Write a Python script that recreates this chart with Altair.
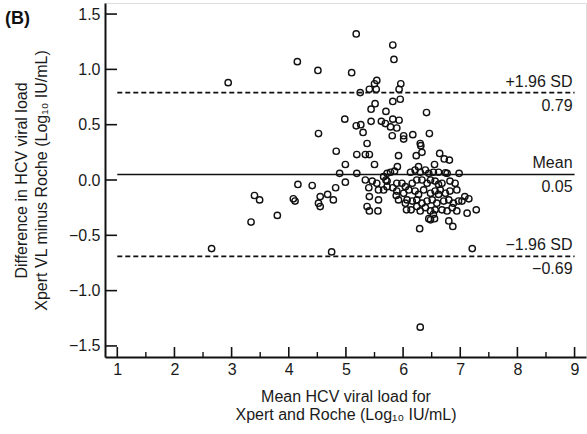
import altair as alt
import pandas as pd

# Bland-Altman data
means = [5.18,5.82,5.84,4.15,4.51,5.10,2.94,5.54,5.50,5.96,5.41,5.53,5.93,5.25,5.95,5.82,5.51,5.44,5.70,6.41,
         4.98,5.44,5.62,5.69,5.82,5.93,5.18,5.26,5.78,5.89,4.52,5.30,5.81,6.01,6.01,6.17,6.46,5.37,6.30,6.31,
         4.83,5.19,5.34,5.41,5.92,6.23,6.33,6.64,6.72,6.81,4.99,5.50,5.90,6.27,6.55,4.89,5.19,5.72,5.78,5.85,
         6.13,6.21,6.30,6.39,6.45,6.53,6.62,6.77,6.98,5.66,4.16,4.41,4.82,4.99,5.34,5.40,5.46,5.54,5.57,5.70,
         5.72,5.82,5.89,3.40,3.49,4.08,4.11,4.55,4.52,4.55,4.68,4.78,3.34,3.80,5.41,5.57,5.37,5.41,5.56,5.88,
         5.92,6.04,6.06,6.14,6.29,6.45,6.55,6.80,6.87,7.12,7.28,7.08,7.15,7.03,2.65,4.75,7.21,6.30,5.72,5.98,
         6.04,6.16,6.24,6.33,6.42,6.48,6.56,6.62,5.66,5.89,6.01,6.10,6.21,6.27,6.36,6.48,6.56,6.62,6.07,6.16,
         6.24,6.33,6.42,6.51,6.59,6.24,6.30,6.39,6.48,6.56,6.48,6.53,6.74,6.68,6.82,6.91,6.65,6.74,6.82,6.94,
         6.71,6.80,6.88,6.97,6.68,6.77,6.86,6.94]
diffs = [1.32,1.22,1.09,1.07,0.99,0.97,0.88,0.90,0.87,0.87,0.82,0.82,0.82,0.79,0.73,0.71,0.69,0.64,0.62,0.61,
         0.55,0.53,0.53,0.51,0.55,0.54,0.49,0.50,0.48,0.47,0.42,0.43,0.40,0.40,0.37,0.41,0.42,0.33,0.33,0.31,
         0.26,0.23,0.23,0.23,0.22,0.22,0.25,0.24,0.19,0.18,0.14,0.14,0.12,0.12,0.14,0.06,0.06,0.06,0.07,0.08,
         0.07,0.09,0.07,0.09,0.06,0.07,0.07,0.06,0.06,0.03,-0.04,-0.05,-0.07,-0.02,0.00,-0.07,-0.01,-0.03,-0.09,0.00,
         -0.06,-0.07,-0.03,-0.14,-0.18,-0.17,-0.19,-0.15,-0.21,-0.24,-0.13,-0.18,-0.38,-0.32,-0.15,-0.18,-0.24,-0.28,-0.28,-0.14,
         -0.18,-0.21,-0.27,-0.27,-0.44,-0.35,-0.35,-0.37,-0.42,-0.30,-0.27,-0.15,-0.17,-0.19,-0.62,-0.65,-0.62,-1.33,-0.01,-0.03,
         -0.06,-0.03,0.00,0.00,-0.03,0.00,-0.01,-0.04,-0.09,-0.10,-0.12,-0.09,-0.10,-0.13,-0.09,-0.12,-0.10,-0.13,-0.18,-0.19,
         -0.18,-0.21,-0.19,-0.18,-0.21,-0.24,-0.28,-0.25,-0.28,-0.27,-0.36,-0.31,0.065,-0.03,-0.01,-0.03,-0.09,-0.12,-0.10,-0.09,
         -0.19,-0.18,-0.21,-0.19,-0.27,-0.28,-0.25,-0.28]

ref_values = [0.79, 0.05, -0.69]
ref_dashed = [True, False, True]
top_labels = ["+1.96 SD", "Mean", "\u22121.96 SD"]
bottom_labels = ["0.79", "0.05", "\u22120.69"]

x_major = [1, 2, 3, 4, 5, 6, 7, 8, 9]
x_minor = [1.5, 2.5, 3.5, 4.5, 5.5, 6.5, 7.5, 8.5]
y_major = [-1.5, -1.0, -0.5, 0.0, 0.5, 1.0, 1.5]

FONT = "Liberation Sans"
W, H = 481, 354
INK = "#1a1a1a"
FS = 16

pts = pd.DataFrame({"mean": means, "diff": diffs})
refs = pd.DataFrame({"y": ref_values, "dashed": ref_dashed, "top": top_labels,
                     "bottom": bottom_labels, "x1": [1]*3, "x2": [9]*3})

xscale = alt.Scale(domain=[0.785, 9.2], nice=False, zero=False)
yscale = alt.Scale(domain=[-1.6, 1.6], nice=False, zero=False)

xaxis = alt.Axis(values=x_major, format="d", ticks=False, grid=False,
                 domainColor="#111", domainWidth=2, labelPadding=4,
                 labelFont=FONT, labelFontSize=FS, labelColor=INK,
                 title=["Mean HCV viral load for", "Xpert and Roche (Log\u2081\u2080 IU/mL)"],
                 titleFont=FONT, titleFontSize=FS, titleFontWeight="normal",
                 titleColor=INK, titlePadding=11, titleLineHeight=18)
yaxis = alt.Axis(values=y_major, format=".1f", ticks=False, grid=False,
                 domainColor="#111", domainWidth=2, labelPadding=5,
                 labelFont=FONT, labelFontSize=FS, labelColor=INK,
                 title=["Difference in HCV viral load", "Xpert VL minus Roche (Log\u2081\u2080 IU/mL)"],
                 titleFont=FONT, titleFontSize=FS, titleFontWeight="normal",
                 titleColor=INK, titlePadding=19, titleLineHeight=20)

points = alt.Chart(pts).mark_point(shape="circle", filled=False, size=40,
                                   strokeWidth=1.4, color="#111", opacity=1).encode(
    x=alt.X("mean:Q", scale=xscale, axis=xaxis),
    y=alt.Y("diff:Q", scale=yscale, axis=yaxis),
)

dashed = alt.Chart(refs).transform_filter("datum.dashed").mark_rule(
    color="#111", strokeWidth=1.7, strokeDash=[5, 3]).encode(
    x=alt.X("x1:Q", scale=xscale, axis=xaxis), x2="x2:Q",
    y=alt.Y("y:Q", scale=yscale, axis=yaxis))

solid = alt.Chart(refs).transform_filter("!datum.dashed").mark_rule(
    color="#111", strokeWidth=1.4).encode(
    x=alt.X("x1:Q", scale=xscale, axis=xaxis), x2="x2:Q",
    y=alt.Y("y:Q", scale=yscale, axis=yaxis))

top_text = alt.Chart(refs).mark_text(align="right", baseline="bottom", dx=-2, dy=-3,
                                     font=FONT, fontSize=FS, color=INK).encode(
    x=alt.X("x2:Q", scale=xscale, axis=xaxis),
    y=alt.Y("y:Q", scale=yscale, axis=yaxis), text="top:N")

bottom_text = alt.Chart(refs).mark_text(align="right", baseline="top", dx=-2, dy=5,
                                        font=FONT, fontSize=FS, color=INK).encode(
    x=alt.X("x2:Q", scale=xscale, axis=xaxis),
    y=alt.Y("y:Q", scale=yscale, axis=yaxis), text="bottom:N")

xt_major = alt.Chart(pd.DataFrame({"t": x_major})).mark_rule(color="#111", strokeWidth=1.6).encode(
    x=alt.X("t:Q", scale=xscale, axis=xaxis), y=alt.value(H), y2=alt.value(H - 10))
xt_minor = alt.Chart(pd.DataFrame({"t": x_minor})).mark_rule(color="#111", strokeWidth=1.4).encode(
    x=alt.X("t:Q", scale=xscale, axis=xaxis), y=alt.value(H), y2=alt.value(H - 5))
yt_major = alt.Chart(pd.DataFrame({"t": y_major})).mark_rule(color="#111", strokeWidth=1.6).encode(
    y=alt.Y("t:Q", scale=yscale, axis=yaxis), x=alt.value(0), x2=alt.value(12))

panel = alt.Chart(pd.DataFrame({"label": ["(B)"]})).mark_text(
    align="left", baseline="middle", font=FONT, fontSize=18, fontWeight="bold",
    color="#111").encode(x=alt.value(-100), y=alt.value(16), text="label:N")

chart = alt.layer(points, dashed, solid, top_text, bottom_text, xt_major, xt_minor,
                  yt_major, panel).properties(
    width=W, height=H,
    autosize=alt.AutoSizeParams(type="none"),
    padding={"left": 105, "top": 3, "right": 1, "bottom": 77},
).configure_view(stroke=None).configure(background="white")

chart.save("out.html", embed_options={"renderer": "svg", "actions": False})
